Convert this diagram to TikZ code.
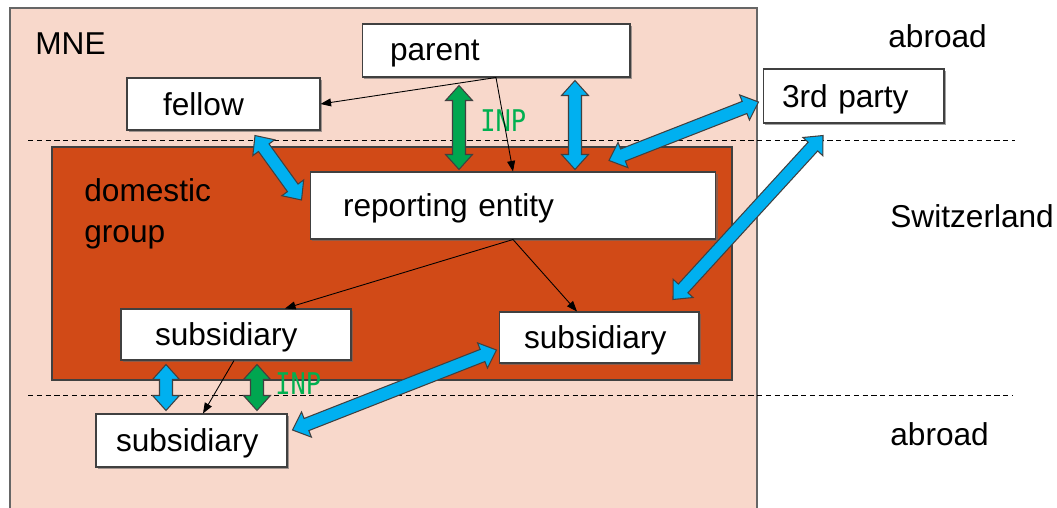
\documentclass[tikz,border=0pt]{standalone}
\usepackage{fontspec}
\setmainfont{Liberation Sans}
\newfontfamily\inpfont[FakeStretch=0.85]{DejaVu Sans Mono}
\usetikzlibrary{arrows.meta,positioning,calc,shadows}
\definecolor{mnebg}{HTML}{F8D8CB}
\definecolor{groupbg}{HTML}{D14A17}
\definecolor{edge}{HTML}{404040}
\definecolor{flowblue}{HTML}{00B0F0}
\definecolor{flowgreen}{HTML}{00A650}
\definecolor{inpgreen}{HTML}{00B050}

% double-headed block arrow between two points
\newcommand\fatarrow[3][flowblue]{%
  \coordinate (fas) at (#2);
  \coordinate (fae) at (#3);
  \filldraw[fill=#1,draw=edge,line width=0.6pt,line join=miter]
    (fas) -- ($(fas)!0.3cm!(fae)!0.27cm!90:(fae)$) -- ($(fas)!0.3cm!(fae)!0.13cm!90:(fae)$)
    -- ($(fae)!0.3cm!(fas)!0.13cm!-90:(fas)$) -- ($(fae)!0.3cm!(fas)!0.27cm!-90:(fas)$)
    -- (fae) -- ($(fae)!0.3cm!(fas)!0.27cm!90:(fas)$) -- ($(fae)!0.3cm!(fas)!0.13cm!90:(fas)$)
    -- ($(fas)!0.3cm!(fae)!0.13cm!-90:(fae)$) -- ($(fas)!0.3cm!(fae)!0.27cm!-90:(fae)$)
    -- cycle;}

\tikzset{
  entity/.style={draw=edge,line width=0.6pt,fill=white,align=left,inner ysep=0pt,
                 text depth=0pt,font=\fontsize{18}{22}\selectfont,
                 drop shadow={shadow xshift=0.9pt,shadow yshift=-0.9pt,fill=black!60,opacity=0.6}},
  region/.style={anchor=west,inner sep=0pt,font=\fontsize{18}{23}\selectfont},
  inp/.style={anchor=west,inner sep=0pt,text=inpgreen,font=\inpfont\fontsize{17}{20}\selectfont},
  owns/.style={-{Triangle[length=6pt,width=4.5pt]},line width=0.5pt,black},
  border/.style={dash pattern=on 3pt off 2pt,line width=0.5pt}
}

\begin{document}
\begin{tikzpicture}[x=0.02cm,y=-0.02cm]
 \useasboundingbox (0,0) rectangle (1057,507);

 % areas
 \filldraw[fill=mnebg,draw=edge!80,line width=0.6pt] (10,8) rectangle (757,520);
 \filldraw[fill=groupbg,draw=edge,line width=0.6pt] (52,147) rectangle (732,380);
 \draw[border] (28,140) -- (1015,140);
 \draw[border] (28,395) -- (1012,395);

 % labels
 \node[region] (mne) at (35,44) {MNE};
 \node[region] (abroadtop) at (888,36) {abroad};
 \node[region] (swiss) at (890,216) {Switzerland};
 \node[region] (abroadbot) at (890,434) {abroad};
 \node[region,align=left] (domestic) at (84,214) {domestic\\group};
 \node[inp] (inptop) at (480,121) {INP};
 \node[inp] (inpbot) at (275,384) {INP};

 % entities
 \node[entity,text width=4.24cm,inner xsep=0.56cm,minimum height=1.06cm] (parent) at (496,50.5) {parent};
 \node[entity,text width=2.42cm,inner xsep=0.72cm,minimum height=1.04cm] (fellow) at (223.5,104) {fellow};
 \node[entity,text width=2.86cm,inner xsep=0.38cm,minimum height=1.08cm] (third) at (853.5,96) {3rd party};
 \node[entity,text width=6.8cm,inner xsep=0.66cm,minimum height=1.34cm] (reporting) at (513,205.5) {reporting entity};
 \node[entity,text width=3.24cm,inner xsep=0.68cm,minimum height=1.02cm] (subA) at (236,334.5) {subsidiary};
 \node[entity,text width=3.0cm,inner xsep=0.5cm,minimum height=1.02cm] (subB) at (599,337.5) {subsidiary};
 \node[entity,text width=3.02cm,inner xsep=0.4cm,minimum height=1.06cm] (subC) at (191.5,440.5) {subsidiary};

 % ownership
 \draw[owns] (parent.south) -- (fellow.east);
 \draw[owns] (parent.south) -- (reporting.north);
 \draw[owns] (reporting.south) -- ([xshift=0.98cm]subA.north);
 \draw[owns] (reporting.south) -- ([xshift=-0.44cm]subB.north);
 \draw[owns] ([xshift=-0.04cm]subA.south) -- ([xshift=0.23cm]subC.north);

 % flows
 \fatarrow[flowgreen]{[xshift=-0.74cm,yshift=-0.16cm]parent.south}{[xshift=-1.08cm,yshift=0.04cm]reporting.north}
 \fatarrow{[xshift=1.58cm,yshift=-0.06cm]parent.south}{[xshift=1.24cm,yshift=0.04cm]reporting.north}
 \fatarrow{[xshift=-0.08cm,yshift=-0.12cm]third.west}{[xshift=1.92cm,yshift=0.22cm]reporting.north}
 \fatarrow{[xshift=0.63cm,yshift=-0.1cm]fellow.south}{[xshift=-0.16cm,yshift=0.11cm]reporting.west}
 \fatarrow{[xshift=-0.61cm,yshift=-0.24cm]third.south}{[xshift=1.48cm,yshift=0.24cm]subB.north}
 \fatarrow{[xshift=-1.4cm,yshift=-0.08cm]subA.south}{[xshift=-0.51cm,yshift=0.06cm]subC.north}
 \fatarrow[flowgreen]{[xshift=0.42cm,yshift=-0.08cm]subA.south}{[xshift=1.31cm,yshift=0.06cm]subC.north}
 \fatarrow{[xshift=-0.04cm,yshift=-0.25cm]subB.west}{[xshift=0.1cm,yshift=0.21cm]subC.east}
\end{tikzpicture}
\end{document}
